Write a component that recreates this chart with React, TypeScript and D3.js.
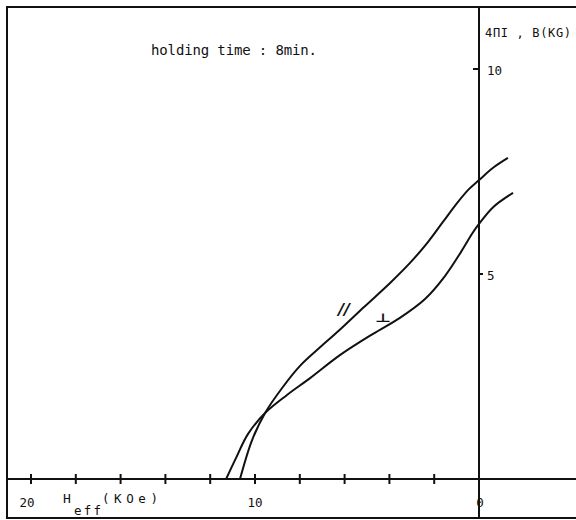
import React, { useRef, useEffect } from 'react'
import * as d3 from 'd3'

// H_eff (kOe) and 4πI, B (kG)
const parallelH = [10.67, 10.13, 9.55, 8.79, 7.99, 7.12, 6.25, 5.12, 3.97, 3.08, 2.28, 1.61, 0.98, 0.45, 0.0, -0.63, -1.29]
const parallelB = [0, 0.95, 1.61, 2.22, 2.76, 3.2, 3.62, 4.2, 4.78, 5.27, 5.78, 6.27, 6.73, 7.07, 7.29, 7.59, 7.83]

const perpH = [11.29, 10.85, 10.31, 9.55, 8.57, 7.54, 6.21, 4.73, 3.53, 2.41, 1.52, 0.8, 0.31, 0.0, -0.63, -1.52]
const perpB = [0, 0.51, 1.1, 1.61, 2.05, 2.46, 3.02, 3.54, 3.93, 4.39, 4.95, 5.54, 5.98, 6.22, 6.63, 6.98]

const xTicks = [20, 18, 16, 14, 12, 10, 8, 6, 4, 2]
const xTickLabels = [
  { v: 20, t: '20' },
  { v: 10, t: '10' },
  { v: 0, t: '0' },
]
const yTicks = [
  { v: 10, t: '10', side: 'left' },
  { v: 5, t: '5', side: 'right' },
]

const title = 'holding time : 8min.'
const yTitle = '4ΠI , B(KG)'

export default function App() {
  const svgRef = useRef<SVGSVGElement>(null)

  useEffect(() => {
    if (!svgRef.current) return
    const svg = d3.select(svgRef.current)
    svg.selectAll('*').remove()

    const ink = '#111'
    const mono = "'DejaVu Sans Mono', 'Liberation Mono', monospace"

    const x = d3.scaleLinear().domain([20, 0]).range([31, 479])
    const y = d3.scaleLinear().domain([0, 10]).range([479, 69])

    svg.append('rect').attr('width', 576).attr('height', 520).attr('fill', '#fff')

    // frame: top, left, bottom
    svg.append('path')
      .attr('d', 'M576,7 L7,7 L7,518 L576,518')
      .attr('fill', 'none').attr('stroke', ink).attr('stroke-width', 2)

    // axes
    svg.append('line')
      .attr('x1', 7).attr('x2', 576)
      .attr('y1', y(0)).attr('y2', y(0))
      .attr('stroke', ink).attr('stroke-width', 2)
    svg.append('line')
      .attr('x1', x(0)).attr('x2', x(0))
      .attr('y1', 7).attr('y2', 518)
      .attr('stroke', ink).attr('stroke-width', 2)

    // x ticks
    svg.append('g')
      .selectAll('line')
      .data(xTicks)
      .join('line')
      .attr('x1', d => x(d)).attr('x2', d => x(d))
      .attr('y1', y(0) - 5).attr('y2', y(0) + 5)
      .attr('stroke', ink).attr('stroke-width', 2)

    svg.append('g')
      .selectAll('text')
      .data(xTickLabels)
      .join('text')
      .attr('x', d => d.v === 20 ? x(d.v) - 4 : d.v === 0 ? x(d.v) + 1 : x(d.v))
      .attr('y', 507)
      .attr('text-anchor', 'middle')
      .attr('font-family', mono)
      .attr('font-size', 12.5)
      .attr('fill', ink)
      .text(d => d.t)

    // y ticks
    svg.append('g')
      .selectAll('line')
      .data(yTicks)
      .join('line')
      .attr('x1', d => d.side === 'left' ? x(0) - 6 : x(0))
      .attr('x2', d => d.side === 'left' ? x(0) : x(0) + 4)
      .attr('y1', d => y(d.v)).attr('y2', d => y(d.v))
      .attr('stroke', ink).attr('stroke-width', 2)

    svg.append('g')
      .selectAll('text')
      .data(yTicks)
      .join('text')
      .attr('x', x(0) + 8)
      .attr('y', d => y(d.v) + 6)
      .attr('font-family', mono)
      .attr('font-size', 12.5)
      .attr('fill', ink)
      .text(d => d.t)

    // axis titles
    const hx = svg.append('g').attr('font-family', mono).attr('fill', ink)
    hx.append('text').attr('x', 63).attr('y', 503).attr('font-size', 13).text('H')
    hx.append('text').attr('x', 74).attr('y', 515).attr('font-size', 12.5)
      .attr('textLength', 27).attr('lengthAdjust', 'spacing').text('eff')
    hx.append('text').attr('x', 102).attr('y', 503).attr('font-size', 12.5)
      .attr('textLength', 56).attr('lengthAdjust', 'spacing').text('(KOe)')

    svg.append('text')
      .attr('x', 485).attr('y', 37)
      .attr('font-family', mono).attr('font-size', 12)
      .attr('textLength', 86).attr('lengthAdjust', 'spacing')
      .attr('fill', ink)
      .text(yTitle)

    svg.append('text')
      .attr('x', 151).attr('y', 55)
      .attr('font-family', mono).attr('font-size', 14)
      .attr('textLength', 166).attr('lengthAdjust', 'spacing')
      .attr('fill', ink)
      .text(title)

    // curves
    const line = d3.line<[number, number]>()
      .x(d => x(d[0]))
      .y(d => y(d[1]))
      .curve(d3.curveCatmullRom.alpha(0.5))

    const series = [
      parallelH.map((h, i) => [h, parallelB[i]] as [number, number]),
      perpH.map((h, i) => [h, perpB[i]] as [number, number]),
    ]

    svg.append('g')
      .selectAll('path')
      .data(series)
      .join('path')
      .attr('d', d => line(d))
      .attr('fill', 'none')
      .attr('stroke', ink)
      .attr('stroke-width', 2)
      .attr('stroke-linejoin', 'round')

    // curve labels
    svg.append('text')
      .attr('x', 344).attr('y', 315)
      .attr('text-anchor', 'middle')
      .attr('font-family', "'DejaVu Sans', sans-serif")
      .attr('font-size', 16).attr('font-style', 'italic').attr('font-weight', 'bold')
      .attr('fill', ink)
      .text('//')
    svg.append('text')
      .attr('x', 375).attr('y', 322)
      .attr('font-family', "'DejaVu Sans', sans-serif")
      .attr('font-size', 12).attr('font-weight', 'bold')
      .attr('textLength', 16).attr('lengthAdjust', 'spacingAndGlyphs')
      .attr('fill', ink)
      .text('⊥')
  }, [])

  return (
    <svg
      ref={svgRef}
      width={576}
      height={520}
      style={{ position: 'absolute', left: 0, top: 0, display: 'block' }}
    />
  )
}
